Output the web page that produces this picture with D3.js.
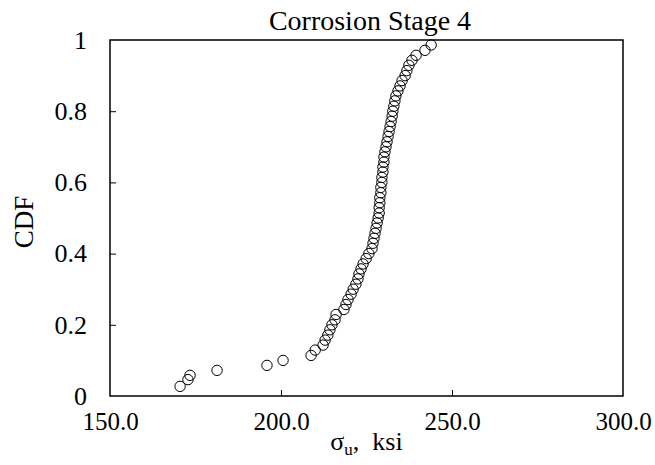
<!DOCTYPE html>
<html>
<head>
<meta charset="utf-8">
<script src="https://cdn.jsdelivr.net/npm/d3@7"></script>
<style>
  body { margin: 0; background: #fff; }
  text { font-family: "Liberation Serif", serif; fill: #000; }
</style>
</head>
<body>
<div id="chart"></div>
<script>
// 數據
const title = 'Corrosion Stage 4';
const stress = [170.5, 172.8, 173.4, 181.3, 195.9, 200.6, 208.8, 210.0, 212.3, 212.9,
  213.7, 214.3, 214.9, 215.8, 216.1, 218.4, 219.0, 219.6, 220.5, 221.1,
  221.9, 222.5, 222.8, 223.4, 224.0, 224.9, 225.7, 226.6, 226.9, 227.2,
  227.5, 227.8, 228.1, 228.4, 228.7, 228.7, 228.9, 228.9, 229.2, 229.2,
  229.5, 229.5, 229.8, 229.8, 230.1, 230.1, 230.4, 230.7, 231.0, 231.3,
  231.6, 231.9, 232.2, 232.5, 232.7, 233.0, 233.3, 233.6, 234.2, 234.8,
  235.4, 236.3, 236.8, 237.4, 238.3, 239.5, 242.1, 243.9];
const cdf = [0.027, 0.046, 0.058, 0.072, 0.086, 0.100, 0.114, 0.129, 0.143, 0.157,
  0.171, 0.186, 0.200, 0.214, 0.229, 0.243, 0.257, 0.271, 0.286, 0.300,
  0.314, 0.329, 0.343, 0.357, 0.371, 0.386, 0.400, 0.414, 0.429, 0.443,
  0.457, 0.471, 0.486, 0.500, 0.514, 0.529, 0.543, 0.557, 0.571, 0.586,
  0.600, 0.614, 0.629, 0.643, 0.657, 0.671, 0.686, 0.700, 0.714, 0.729,
  0.743, 0.757, 0.771, 0.786, 0.800, 0.814, 0.829, 0.843, 0.857, 0.871,
  0.886, 0.900, 0.914, 0.929, 0.943, 0.957, 0.971, 0.986];
const xTicks = [150, 200, 250, 300];
const yTicks = [0, 0.2, 0.4, 0.6, 0.8, 1];

const W = 655, H = 465;
const FONT = 'Liberation Serif';
const margin = { top: 40, right: 32, bottom: 69, left: 110 };
const width = W - margin.left - margin.right,
      height = H - margin.top - margin.bottom;

const svg = d3.select('#chart').append('svg')
  .attr('width', W).attr('height', H)
  .attr('font-family', FONT);
const g = svg.append('g')
  .attr('transform', `translate(${margin.left},${margin.top})`); //主顯示區

const x = d3.scaleLinear().domain([150, 300]).range([0, width]);
const y = d3.scaleLinear().domain([0, 1]).range([height, 0]);

//X軸 (刻度朝內)
g.append('g')
  .attr('transform', `translate(0,${height})`)
  .call(d3.axisBottom(x).tickValues(xTicks).tickSize(-6).tickPadding(16).tickFormat(d3.format('.1f')))
  .attr('font-family', FONT).attr('font-size', 25)
  .call(a => a.selectAll('.tick line').filter(d => d === 150 || d === 300).remove())
  .call(a => a.select('.domain').remove());

//Y軸
g.append('g')
  .call(d3.axisLeft(y).tickValues(yTicks).tickSize(-6).tickPadding(23).tickFormat(d => d3.format('')(+d.toFixed(1))))
  .attr('font-family', FONT).attr('font-size', 26)
  .call(a => a.selectAll('.tick line').filter(d => d === 0 || d === 1).remove())
  .call(a => a.select('.domain').remove());

//外框
g.append('rect')
  .attr('width', width).attr('height', height)
  .attr('fill', 'none').attr('stroke', '#000').attr('stroke-width', 1.5);

//點
g.selectAll('circle.pt')
  .data(stress.map((v, i) => ({ v, p: cdf[i] })))
  .enter().append('circle')
  .attr('class', 'pt')
  .attr('cx', d => x(d.v))
  .attr('cy', d => y(d.p))
  .attr('r', 5.2)
  .attr('fill', 'none')
  .attr('stroke', '#000')
  .attr('stroke-width', 1);

//標題
svg.append('text')
  .attr('x', 370).attr('y', 30)
  .attr('text-anchor', 'middle').attr('font-size', 28)
  .text(title);

//Y軸標題
svg.append('text')
  .attr('transform', `translate(33,222) rotate(-90)`)
  .attr('text-anchor', 'middle').attr('font-size', 27)
  .text('CDF');

//X軸標題
const xl = svg.append('text')
  .attr('x', margin.left + width / 2).attr('y', 450)
  .attr('text-anchor', 'middle').attr('font-size', 26)
  .style('white-space', 'pre');
xl.append('tspan').text('σ');
xl.append('tspan').attr('font-size', 17).attr('dy', 5).text('u');
xl.append('tspan').attr('dy', -5).text(',  ksi');
</script>
</body>
</html>
